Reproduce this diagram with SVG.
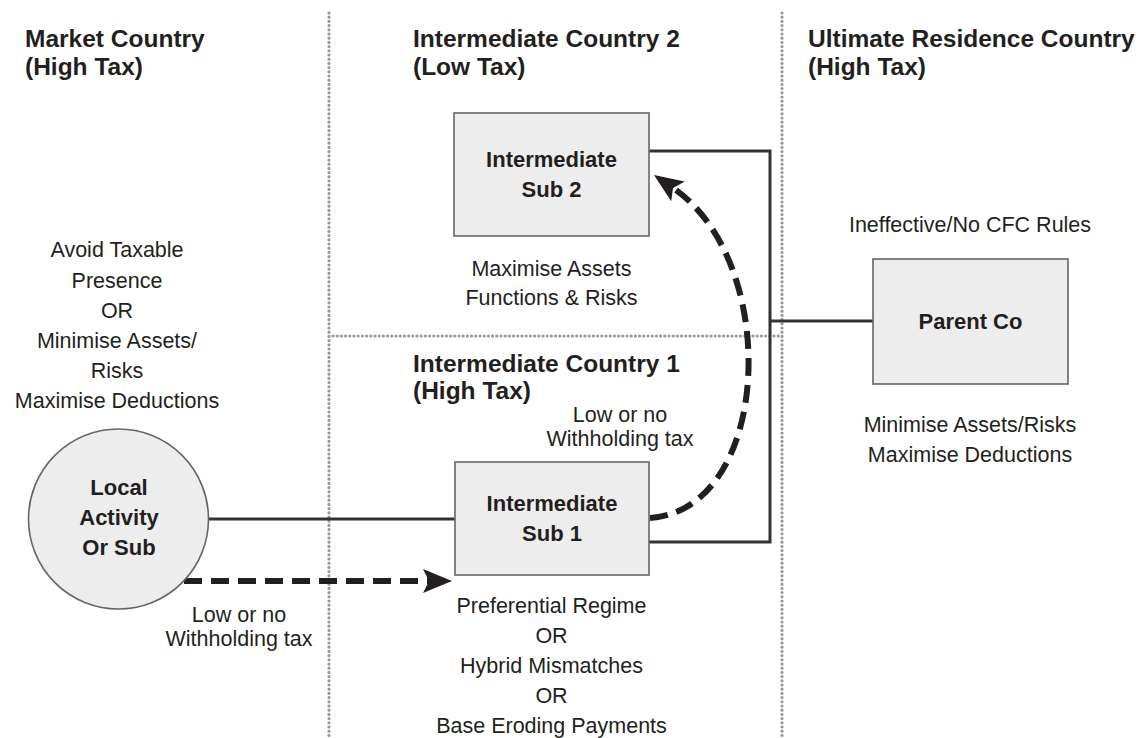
<svg xmlns="http://www.w3.org/2000/svg" width="1142" height="738" viewBox="0 0 1142 738">
<style>
.bg{fill:#ffffff}
.dot{fill:none;stroke:#999999;stroke-width:3.2;stroke-dasharray:0 4.2;stroke-linecap:round}
.box{fill:#ededed;stroke:#666666;stroke-width:1.6}
.link{fill:none;stroke:#333333;stroke-width:3}
.dash{fill:none;stroke:#231f20;stroke-width:6;stroke-dasharray:18 9}
.h{font-family:"Liberation Sans",Arial,sans-serif;font-weight:bold;font-size:24.5px;fill:#231f20}
.b{font-family:"Liberation Sans",Arial,sans-serif;font-weight:bold;font-size:22px;fill:#231f20;text-anchor:middle}
.t{font-family:"Liberation Sans",Arial,sans-serif;font-size:21.5px;fill:#231f20;text-anchor:middle}
</style>
<defs>
<marker id="ah" markerUnits="userSpaceOnUse" markerWidth="30" markerHeight="26" viewBox="0 0 30 26" refX="6" refY="13" orient="auto">
<path d="M0,1 L29,13 L0,25 L6,13 z" fill="#231f20"/>
</marker>
</defs>
<rect class="bg" x="0" y="0" width="1142" height="738"/>
<g id="zones">
<line class="dot" x1="329" y1="13" x2="329" y2="738"/>
<line class="dot" x1="782" y1="13" x2="782" y2="738"/>
<line class="dot" x1="333" y1="336" x2="782" y2="336"/>
<text class="h" x="25" y="47">Market Country</text>
<text class="h" x="25" y="75">(High Tax)</text>
<text class="h" x="413" y="47">Intermediate Country 2</text>
<text class="h" x="413" y="75">(Low Tax)</text>
<text class="h" x="808" y="47">Ultimate Residence Country</text>
<text class="h" x="808" y="75">(High Tax)</text>
<text class="h" x="413" y="372">Intermediate Country 1</text>
<text class="h" x="413" y="399">(High Tax)</text>
</g>
<g id="connectors">
<line class="link" x1="209" y1="519" x2="455" y2="519"/>
<polyline class="link" points="649,151 770,151 770,542 649,542"/>
<line class="link" x1="770" y1="321" x2="873" y2="321"/>
<line class="dash" x1="184" y1="581" x2="429" y2="581" marker-end="url(#ah)"/>
<path class="dash" d="M650,518 C772,510 782,262 673,188" marker-end="url(#ah)"/>
</g>
<g id="market-notes">
<text class="t" x="117" y="257">Avoid Taxable</text>
<text class="t" x="117" y="288">Presence</text>
<text class="t" x="117" y="318">OR</text>
<text class="t" x="117" y="348">Minimise Assets/</text>
<text class="t" x="117" y="378">Risks</text>
<text class="t" x="117" y="408">Maximise Deductions</text>
</g>
<g id="local-activity">
<circle cx="118.5" cy="519" r="90" fill="#ededed" stroke="#666666" stroke-width="1.6"/>
<text class="b" x="119" y="495">Local</text>
<text class="b" x="119" y="525">Activity</text>
<text class="b" x="119" y="555">Or Sub</text>
</g>
<g id="wht-label-1">
<text class="t" x="239" y="622">Low or no</text>
<text class="t" x="239" y="646">Withholding tax</text>
</g>
<g id="intermediate-sub-2">
<rect class="box" x="454" y="113" width="195" height="123"/>
<text class="b" x="551.5" y="167">Intermediate</text>
<text class="b" x="551.5" y="197">Sub 2</text>
<text class="t" x="551.5" y="276">Maximise Assets</text>
<text class="t" x="551.5" y="305">Functions &amp; Risks</text>
</g>
<g id="intermediate-sub-1">
<rect class="box" x="455" y="462" width="194" height="113"/>
<text class="b" x="552" y="511">Intermediate</text>
<text class="b" x="552" y="541">Sub 1</text>
<text class="t" x="551.5" y="613">Preferential Regime</text>
<text class="t" x="551.5" y="643">OR</text>
<text class="t" x="551.5" y="673">Hybrid Mismatches</text>
<text class="t" x="551.5" y="703">OR</text>
<text class="t" x="551.5" y="733">Base Eroding Payments</text>
</g>
<g id="wht-label-2">
<text class="t" x="620" y="422">Low or no</text>
<text class="t" x="620" y="446">Withholding tax</text>
</g>
<g id="parent-co">
<text class="t" x="970" y="232">Ineffective/No CFC Rules</text>
<rect class="box" x="873" y="259" width="195" height="125"/>
<text class="b" x="970.5" y="329">Parent Co</text>
<text class="t" x="970" y="432">Minimise Assets/Risks</text>
<text class="t" x="970" y="462">Maximise Deductions</text>
</g>
</svg>
